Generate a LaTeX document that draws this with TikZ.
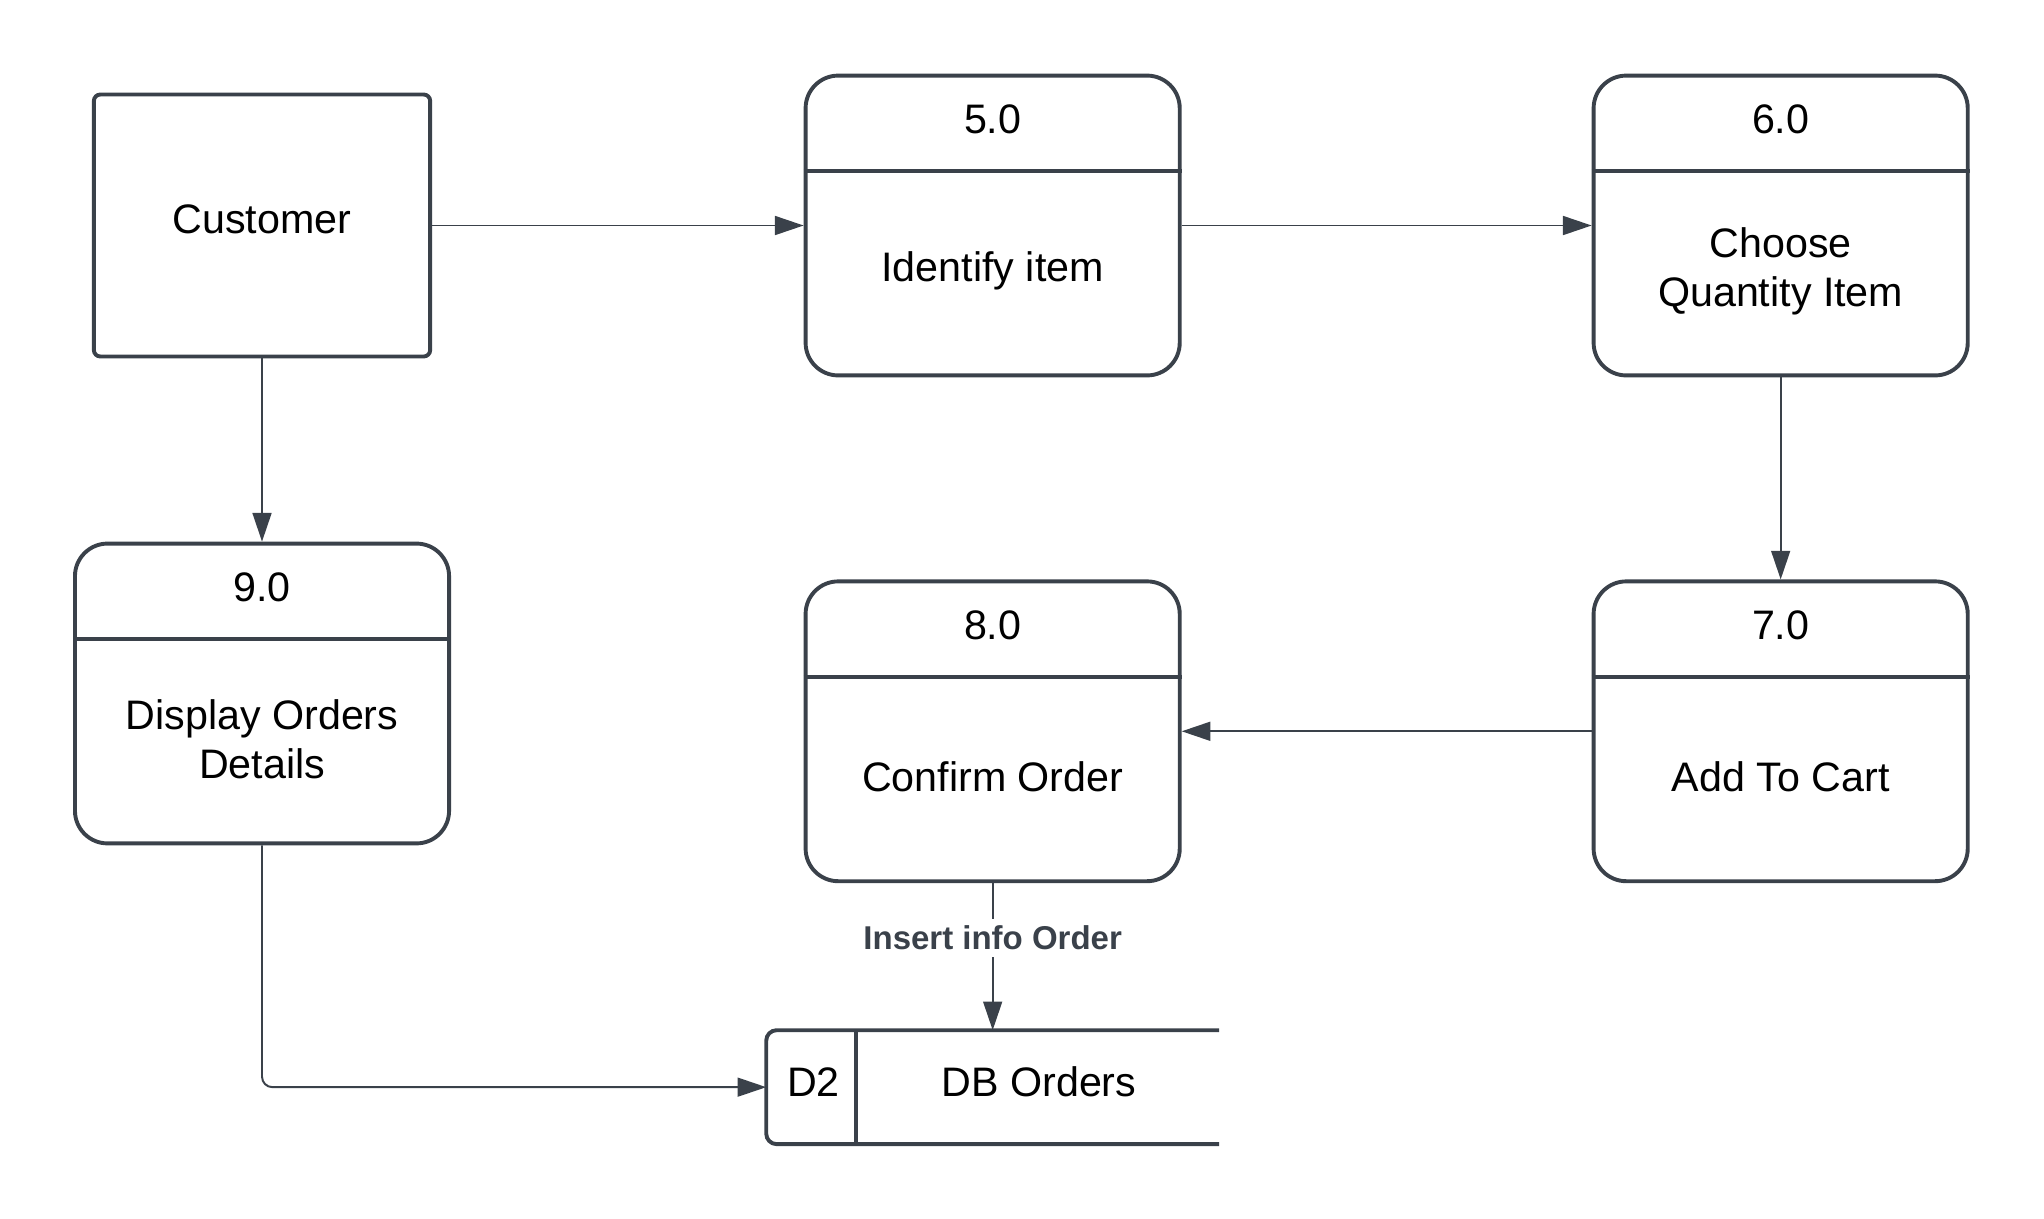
\documentclass[tikz,border=0pt]{standalone}
\usepackage{fontspec}
\setmainfont{Liberation Sans}
\usetikzlibrary{arrows.meta}
\definecolor{linec}{HTML}{3A414A}

\begin{document}
\begin{tikzpicture}[x={(0.1mm,0)}, y={(0,-0.1mm)},
		font=\fontsize{9}{10.8}\selectfont,
		process/.style={draw=linec, line width=.3mm, rounded corners=2.5mm, minimum width=28.7mm, minimum height=23mm, inner sep=0pt},
		entity/.style={draw=linec, line width=.3mm, rounded corners=.5mm, minimum width=25.8mm, minimum height=20.1mm, inner sep=0pt},
		flow/.style={draw=linec, line width=.15mm, -{Triangle[length=2.2mm,width=1.45mm]}},
		flowlabel/.style={fill=white, text=linec, font=\fontsize{7.2}{8.6}\selectfont\bfseries, inner sep=1.5pt}]
		\useasboundingbox (0,0) rectangle (1568,935);
		
		% External entity
		\node[entity] (cust) at (201,173) {};
		\node (cust-txt) at ([yshift=.5mm]cust.center) {Customer};
		
		% Processes
		\foreach \n/\x/\y/\num/\txt in {p5/761.5/173/5.0/{Identify item}, p6/1366/173/6.0/{Choose\\Quantity Item},
			p9/201/532/9.0/{Display Orders\\Details}, p8/761.5/561/8.0/{Confirm Order}, p7/1366/561/7.0/{Add To Cart}}{
			\node[process] (\n) at (\x,\y) {};
			\draw[linec, line width=.3mm] ([yshift=-7.5mm]\n.north west) -- ([yshift=-7.5mm]\n.north east);
			\node (\n-num) at ([yshift=-3.5mm]\n.north) {\num};
			\node[align=center] (\n-txt) at ([yshift=-3.5mm]\n.center) {\txt};
		}
		
		% Data store
		\node[minimum width=34.6mm, minimum height=8.6mm, inner sep=0pt] (d2) at (761.5,834) {};
		\draw[linec, line width=.3mm, rounded corners=.8mm] (d2.north east) -- (d2.north west) -- (d2.south west) -- (d2.south east);
		\draw[linec, line width=.3mm] ([xshift=6.9mm]d2.north west) -- ([xshift=6.9mm]d2.south west);
		\node (d2-id) at (624,830) {D2};
		\node (d2-txt) at (797,830) {DB Orders};
		
		% Data flows
		\draw[flow] (cust.east) -- (p5.west);
		\draw[flow] (p5.east) -- (p6.west);
		\draw[flow] (p6.south) -- (p7.north);
		\draw[flow] (p7.west) -- (p8.east);
		\draw[flow] (cust.south) -- (p9.north);
		\draw[flow] (p8.south) -- node[flowlabel, pos=.37] (ins) {Insert info Order} (d2.north);
		\draw[flow, rounded corners=.8mm] (p9.south) |- (d2.west);
	\end{tikzpicture}
\end{document}
